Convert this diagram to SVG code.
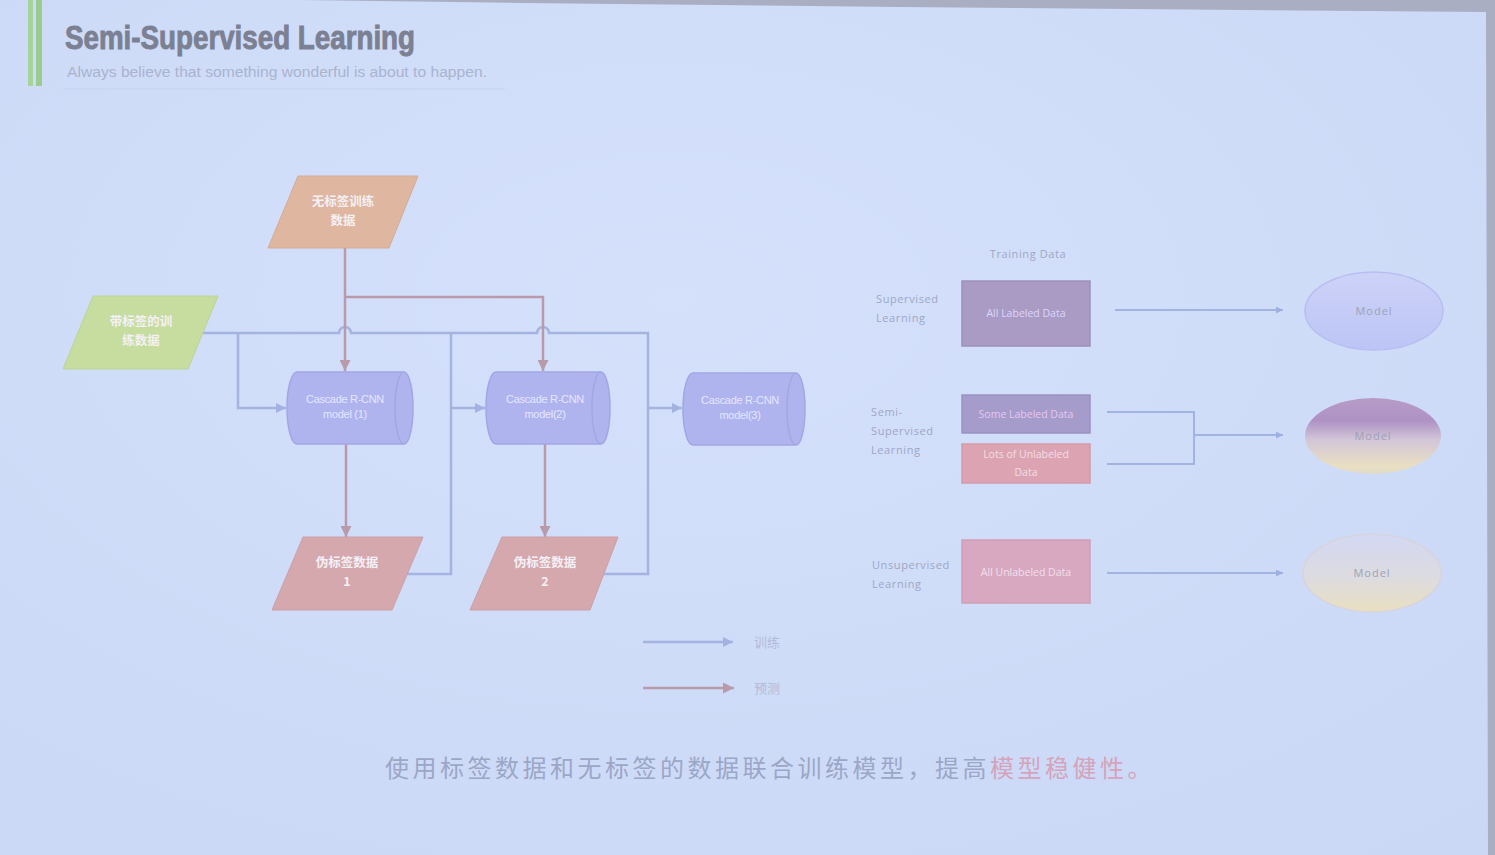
<svg xmlns="http://www.w3.org/2000/svg" width="1495" height="855" viewBox="0 0 1495 855">
  <defs>
    <radialGradient id="bg" cx="0.45" cy="0.35" r="0.8">
      <stop offset="0" stop-color="#d5e1fb"/>
      <stop offset="1" stop-color="#cad8f6"/>
    </radialGradient>
    <linearGradient id="gModel1" x1="0" y1="0" x2="0" y2="1">
      <stop offset="0" stop-color="#cdd2f8"/>
      <stop offset="1" stop-color="#bcc5f5"/>
    </linearGradient>
    <linearGradient id="gModel2" x1="0" y1="0" x2="0" y2="1">
      <stop offset="0" stop-color="#b79bc6"/>
      <stop offset="0.3" stop-color="#ae92c5"/>
      <stop offset="0.55" stop-color="#d2c6d8"/>
      <stop offset="0.9" stop-color="#e9dfc2"/>
      <stop offset="1" stop-color="#e0dbca"/>
    </linearGradient>
    <linearGradient id="gModel3" x1="0" y1="0" x2="0" y2="1">
      <stop offset="0" stop-color="#d3d8f3"/>
      <stop offset="0.55" stop-color="#dcdbe0"/>
      <stop offset="1" stop-color="#e9dfc0"/>
    </linearGradient>
    <marker id="arrBlue" viewBox="0 0 10 10" refX="10" refY="5" markerWidth="10" markerHeight="10" markerUnits="userSpaceOnUse" orient="auto">
      <path d="M0,0 L10,5 L0,10 Z" fill="#a3b2e0"/>
    </marker>
    <marker id="arrMauve" viewBox="0 0 10 10" refX="10" refY="5" markerWidth="11" markerHeight="11" markerUnits="userSpaceOnUse" orient="auto">
      <path d="M0,0 L10,5 L0,10 Z" fill="#b99aab"/>
    </marker>
    <marker id="arrThin" viewBox="0 0 10 10" refX="10" refY="5" markerWidth="7" markerHeight="7" markerUnits="userSpaceOnUse" orient="auto">
      <path d="M0,0 L10,5 L0,10 Z" fill="#9eb0e0"/>
    </marker>
  </defs>
  <style>
    .train { fill: none; stroke: #a5b3e0; stroke-width: 2.5; }
    .pred { fill: none; stroke: #b99aab; stroke-width: 2.5; }
    .thin { fill: none; stroke: #a2b3e2; stroke-width: 2; }
    .zh { font-family: "Noto Sans CJK SC", sans-serif; font-weight: bold; fill: #f4f0f6; font-size: 12.5px; text-anchor: middle; }
    .cyl { fill: #b0b4ee; stroke: #a2a6e4; stroke-width: 1.5; }
    .cylT { font-family: "Liberation Sans", sans-serif; fill: #e4e6ff; font-size: 11px; text-anchor: middle; letter-spacing: -0.3px; }
    .lab { font-family: "Open Sans", sans-serif; fill: #9ea6c6; font-size: 11px; letter-spacing: 0.6px; }
    .boxT { font-family: "Open Sans", sans-serif; font-size: 10.5px; text-anchor: middle; }
    .mdl { font-family: "Open Sans", sans-serif; font-size: 11px; fill: #9da2b8; text-anchor: middle; letter-spacing: 1px; }
  </style>

  <!-- slide background and frame -->
  <rect width="1495" height="855" fill="url(#bg)"/>
  <polygon points="300,0 1495,0 1495,855 1488,855 1486,12 900,7 520,3" fill="#a9aec2"/>
  <rect x="28" y="0" width="5" height="86" fill="#a6d39a"/>
  <rect x="36" y="0" width="6" height="86" fill="#9ccb8e"/>

  <!-- header -->
  <text x="65" y="49" font-family="Liberation Sans Narrow, Liberation Sans, sans-serif" font-weight="bold" font-size="33" fill="#7b8092" stroke="#7b8092" stroke-width="0.9" textLength="350" lengthAdjust="spacingAndGlyphs">Semi-Supervised Learning</text>
  <text x="67" y="77" font-family="Liberation Sans, sans-serif" font-size="14" fill="#aab3cf" textLength="420" lengthAdjust="spacingAndGlyphs">Always believe that something wonderful is about to happen.</text>
  <line x1="63" y1="89" x2="505" y2="89" stroke="#c6d1ee" stroke-width="1"/>

  <!-- connectors -->
  <g id="connectors">
    <path class="train" d="M203,333 H339 A6,6 0 0 1 351,333 H537 A6,6 0 0 1 549,333 H648 V574 H604"/>
    <path class="train" d="M238,333 V408 H286" marker-end="url(#arrBlue)"/>
    <path class="train" d="M407,574 H451 V333"/>
    <path class="train" d="M451,408 H485" marker-end="url(#arrBlue)"/>
    <path class="train" d="M648,408 H682" marker-end="url(#arrBlue)"/>
    <path class="pred" d="M345,248 V371" marker-end="url(#arrMauve)"/>
    <path class="pred" d="M345,297 H543 V371" marker-end="url(#arrMauve)"/>
    <path class="pred" d="M346,444 V537" marker-end="url(#arrMauve)"/>
    <path class="pred" d="M545,444 V537" marker-end="url(#arrMauve)"/>
    <!-- legend -->
    <path class="train" d="M643,642 H733" marker-end="url(#arrBlue)"/>
    <path class="pred" d="M643,688 H734" marker-end="url(#arrMauve)"/>
    <!-- right-hand panel -->
    <path class="thin" d="M1115,310 H1283" marker-end="url(#arrThin)"/>
    <path class="thin" d="M1107,412 H1194 V464 H1107"/>
    <path class="thin" d="M1194,435 H1283" marker-end="url(#arrThin)"/>
    <path class="thin" d="M1107,573 H1283" marker-end="url(#arrThin)"/>
  </g>

  <!-- legend labels -->
  <text x="754" y="647" font-family="Noto Sans CJK SC, sans-serif" font-size="13" fill="#b3bbdb">训练</text>
  <text x="754" y="693" font-family="Noto Sans CJK SC, sans-serif" font-size="13" fill="#b3bbdb">预测</text>

  <!-- data inputs -->
  <g id="unlabeled-data">
    <polygon points="298,176 418,176 389,248 268,248" fill="#dfb69f" stroke="#d6ab95" stroke-width="1"/>
    <text class="zh" x="343" y="206">无标签训练</text>
    <text class="zh" x="343" y="225">数据</text>
  </g>
  <g id="labeled-data">
    <polygon points="93,296 218,296 188,369 63,369" fill="#c6dd9f" stroke="#bcd494" stroke-width="1"/>
    <text class="zh" x="141" y="326">带标签的训</text>
    <text class="zh" x="141" y="345">练数据</text>
  </g>

  <!-- models -->
  <g id="model-1">
    <path class="cyl" d="M297,372 H404 A9,36 0 0 1 404,444 H297 A10,36 0 0 1 297,372 Z"/>
    <path class="cyl" d="M404,372 A9,36 0 0 0 404,444" fill="none"/>
    <text class="cylT" x="345" y="403">Cascade R-CNN</text>
    <text class="cylT" x="345" y="418">model (1)</text>
  </g>
  <g id="model-2">
    <path class="cyl" d="M496,372 H601 A9,36 0 0 1 601,444 H496 A10,36 0 0 1 496,372 Z"/>
    <path class="cyl" d="M601,372 A9,36 0 0 0 601,444" fill="none"/>
    <text class="cylT" x="545" y="403">Cascade R-CNN</text>
    <text class="cylT" x="545" y="418">model(2)</text>
  </g>
  <g id="model-3">
    <path class="cyl" d="M693,373 H796 A9,36 0 0 1 796,445 H693 A10,36 0 0 1 693,373 Z"/>
    <path class="cyl" d="M796,373 A9,36 0 0 0 796,445" fill="none"/>
    <text class="cylT" x="740" y="404">Cascade R-CNN</text>
    <text class="cylT" x="740" y="419">model(3)</text>
  </g>

  <!-- pseudo labels -->
  <g id="pseudo-1">
    <polygon points="303,537 423,537 392,610 272,610" fill="#d5a8ae" stroke="#cc9fa6" stroke-width="1"/>
    <text class="zh" x="347" y="567">伪标签数据</text>
    <text class="zh" x="347" y="586">1</text>
  </g>
  <g id="pseudo-2">
    <polygon points="502,537 618,537 590,610 470,610" fill="#d5a8ae" stroke="#cc9fa6" stroke-width="1"/>
    <text class="zh" x="545" y="567">伪标签数据</text>
    <text class="zh" x="545" y="586">2</text>
  </g>

  <!-- right-hand comparison -->
  <text class="lab" x="1028" y="258" text-anchor="middle">Training Data</text>

  <g id="supervised">
    <text class="lab" x="876" y="303">Supervised</text>
    <text class="lab" x="876" y="322">Learning</text>
    <rect x="962" y="281" width="128" height="65" fill="#a99bc3" stroke="#9d90bb" stroke-width="1.5"/>
    <text class="boxT" x="1026" y="317" fill="#ddd6ff">All Labeled Data</text>
  </g>
  <g id="model-sup">
    <ellipse cx="1374" cy="311" rx="69" ry="39" fill="url(#gModel1)" stroke="#b8bef0" stroke-width="1.5"/>
    <text class="mdl" x="1374" y="315">Model</text>
  </g>

  <g id="semi-supervised">
    <text class="lab" x="871" y="416">Semi-</text>
    <text class="lab" x="871" y="435">Supervised</text>
    <text class="lab" x="871" y="454">Learning</text>
    <rect x="962" y="395" width="128" height="38" fill="#a69ccb" stroke="#9b92c2" stroke-width="1.5"/>
    <text class="boxT" x="1026" y="418" fill="#e6c6f0">Some Labeled Data</text>
    <rect x="962" y="444" width="128" height="39" fill="#dca4b2" stroke="#d39ba9" stroke-width="1.5"/>
    <text class="boxT" x="1026" y="458" fill="#f2dde6">Lots of Unlabeled</text>
    <text class="boxT" x="1026" y="476" fill="#f2dde6">Data</text>
  </g>
  <g id="model-semi">
    <ellipse cx="1373" cy="436" rx="68" ry="38" fill="url(#gModel2)"/>
    <text class="mdl" x="1373" y="440" fill="#b7a9c4">Model</text>
  </g>

  <g id="unsupervised">
    <text class="lab" x="872" y="569">Unsupervised</text>
    <text class="lab" x="872" y="588">Learning</text>
    <rect x="962" y="540" width="128" height="63" fill="#d8a8c0" stroke="#cf9fb7" stroke-width="1.5"/>
    <text class="boxT" x="1026" y="576" fill="#f0e0ec">All Unlabeled Data</text>
  </g>
  <g id="model-unsup">
    <ellipse cx="1372" cy="573" rx="69" ry="39" fill="url(#gModel3)" stroke="#d6d4dc" stroke-width="1.5"/>
    <text class="mdl" x="1372" y="577">Model</text>
  </g>

  <!-- caption -->
  <text x="385" y="777" font-family="Noto Sans CJK SC, sans-serif" font-size="24" letter-spacing="3.5" fill="#9ca6c6">使用标签数据和无标签的数据联合训练模型，提高<tspan fill="#d5a3bb">模型稳健性。</tspan></text>
</svg>
